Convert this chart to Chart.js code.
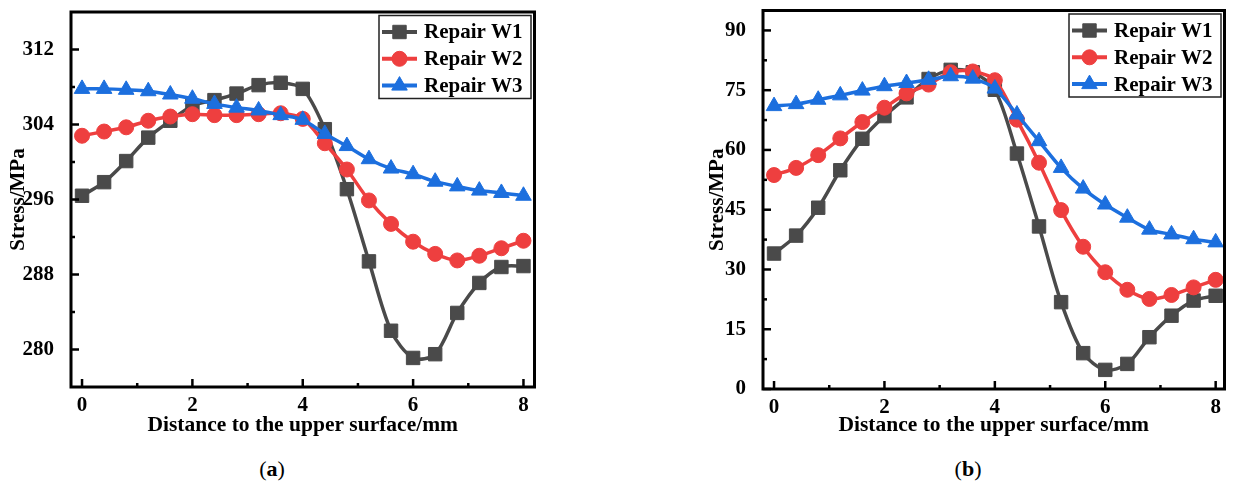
<!DOCTYPE html>
<html>
<head>
<meta charset="utf-8">
<script src="https://cdn.jsdelivr.net/npm/chart.js@4.4.1/dist/chart.umd.min.js"></script>
<style>
  body { margin: 0; background: #fff; width: 1235px; height: 484px; overflow: hidden; position: relative; font-family: "Liberation Serif", serif; }
  .panel { position: absolute; top: 0; }
  .cap { position: absolute; top: 456px; width: 60px; text-align: center; font-size: 22px; color: #000; }
</style>
</head>
<body>
<div class="panel" style="left:0"><canvas id="panelA" width="545" height="440"></canvas></div>
<div class="panel" style="left:690px"><canvas id="panelB" width="545" height="440"></canvas></div>
<div class="cap" style="left:242px">(<b>a</b>)</div>
<div class="cap" style="left:938px">(<b>b</b>)</div>

<script>
// depth below the upper surface (mm)
const distance = [0, 0.4, 0.8, 1.2, 1.6, 2.0, 2.4, 2.8, 3.2, 3.6, 4.0, 4.4, 4.8, 5.2, 5.6, 6.0, 6.4, 6.8, 7.2, 7.6, 8.0];
const seriesNames = ["Repair W1", "Repair W2", "Repair W3"];

// (a) stress, MPa
const stressA_W1 = [296.4, 297.85, 300.1, 302.6, 304.4, 306.0, 306.6, 307.3, 308.2, 308.45, 307.8, 303.5, 297.1, 289.4, 282.0, 279.1, 279.5, 283.9, 287.1, 288.8, 288.9];
const stressA_W2 = [302.8, 303.25, 303.7, 304.4, 304.85, 305.1, 305.0, 305.0, 305.1, 305.2, 304.6, 302.0, 299.2, 295.9, 293.4, 291.5, 290.2, 289.5, 290.0, 290.8, 291.6];
const stressA_W3 = [307.8, 307.8, 307.7, 307.55, 307.2, 306.75, 306.2, 305.8, 305.5, 305.0, 304.5, 303.0, 301.7, 300.3, 299.3, 298.7, 297.9, 297.4, 296.95, 296.7, 296.4];

// (b) stress, MPa
const stressB_W1 = [34.0, 38.5, 45.5, 54.9, 62.8, 68.5, 73.2, 77.8, 80.1, 79.5, 75.1, 59.1, 40.8, 21.8, 9.0, 4.8, 6.3, 13.0, 18.4, 22.2, 23.4];
const stressB_W2 = [53.7, 55.5, 58.7, 62.9, 67.0, 70.6, 74.2, 76.4, 79.5, 79.7, 77.5, 67.6, 56.8, 44.9, 35.7, 29.3, 24.9, 22.6, 23.6, 25.5, 27.4];
const stressB_W3 = [71.0, 71.5, 72.6, 73.7, 74.9, 76.0, 76.8, 77.6, 78.5, 77.9, 75.4, 68.9, 62.2, 55.5, 50.3, 46.3, 43.0, 40.0, 38.8, 37.6, 36.8];

const xTicks = [0, 2, 4, 6, 8];
const xMinor = [1, 3, 5, 7];
const yTicksA = [280, 288, 296, 304, 312];
const yMinorA = [284, 292, 300, 308];
const yTicksB = [0, 15, 30, 45, 60, 75, 90];
const yMinorB = [7.5, 22.5, 37.5, 52.5, 67.5, 82.5];

const FONT = '"Liberation Serif", "Times New Roman", serif';
const colors = ["#4a4a4a", "#ee3f3f", "#1c6fde"];
const markers = ["rect", "circle", "triangle"];
const markerSize = [9.5, 7.5, 9];

// frame round the plot area plus inward major/minor ticks
const framePlugin = {
  id: "frame",
  afterDatasetsDraw(chart, args, o) {
    const { ctx, chartArea: a, scales: { x, y } } = chart;
    ctx.save();
    ctx.strokeStyle = "#000";
    ctx.lineCap = "butt";
    const tick = (x1, y1, x2, y2, w) => {
      ctx.lineWidth = w;
      ctx.beginPath(); ctx.moveTo(x1, y1); ctx.lineTo(x2, y2); ctx.stroke();
    };
    o.xMajor.forEach(v => { const p = x.getPixelForValue(v); tick(p, a.bottom, p, a.bottom - 8, 2.5); });
    o.xMinor.forEach(v => { const p = x.getPixelForValue(v); tick(p, a.bottom, p, a.bottom - 4, 2.5); });
    o.yMajor.forEach(v => { const p = y.getPixelForValue(v); tick(a.left, p, a.left + 8, p, 2.5); });
    o.yMinor.forEach(v => { const p = y.getPixelForValue(v); tick(a.left, p, a.left + 4, p, 2.5); });
    ctx.lineWidth = 3;
    ctx.strokeRect(a.left, a.top, a.right - a.left, a.bottom - a.top);
    ctx.restore();
  }
};

// boxed legend in the top right corner, line + marker samples
const legendPlugin = {
  id: "boxLegend",
  afterDraw(chart) {
    const { ctx, chartArea: a } = chart;
    const w = 152, h = 83;
    const left = a.right - 3.5 - w, top = a.top + 3.5;
    ctx.save();
    ctx.fillStyle = "#fff";
    ctx.fillRect(left, top, w, h);
    ctx.strokeStyle = "#222";
    ctx.lineWidth = 1.5;
    ctx.strokeRect(left, top, w, h);
    chart.data.datasets.forEach((ds, i) => {
      const cy = top + 16.5 + i * 26.8;
      ctx.strokeStyle = ds.borderColor;
      ctx.fillStyle = ds.borderColor;
      ctx.lineWidth = 4;
      ctx.beginPath(); ctx.moveTo(left + 3, cy); ctx.lineTo(left + 38, cy); ctx.stroke();
      ctx.lineWidth = 1;
      Chart.helpers.drawPoint(ctx, { pointStyle: ds.pointStyle, radius: ds.pointRadius, borderWidth: 1, rotation: 0 }, left + 20.5, cy);
      ctx.fillStyle = "#000";
      ctx.font = "bold 21px " + FONT;
      ctx.textBaseline = "middle";
      ctx.fillText(ds.label, left + 45, cy + 1);
    });
    ctx.restore();
  }
};

function makePanel(id, series, p) {
  const datasets = series.map((vals, i) => ({
    label: seriesNames[i],
    data: distance.map((d, k) => ({ x: d, y: vals[k] })),
    borderColor: colors[i],
    backgroundColor: colors[i],
    borderWidth: 3.5,
    pointStyle: markers[i],
    pointRadius: markerSize[i],
    pointBorderWidth: 1,
    tension: 0.3,
    order: 2 - i,
    clip: false
  }));

  new Chart(document.getElementById(id), {
    type: "line",
    data: { datasets },
    options: {
      responsive: false,
      animation: false,
      layout: { padding: { left: 0, top: p.top, right: p.right, bottom: 0 } },
      plugins: {
        legend: { display: false },
        tooltip: { enabled: false },
        frame: { xMajor: xTicks, xMinor: xMinor, yMajor: p.yTicks, yMinor: p.yMinor }
      },
      scales: {
        x: {
          type: "linear",
          min: p.xMin, max: p.xMax,
          grid: { display: false },
          border: { display: false },
          afterBuildTicks: s => { s.ticks = xTicks.map(v => ({ value: v })); },
          afterFit: s => { s.height = p.xHeight; s.paddingLeft = 0; s.paddingRight = 0; },
          ticks: { color: "#000", padding: -2, font: { family: FONT, size: 21, weight: "bold" } },
          title: {
            display: true, text: "Distance to the upper surface/mm", color: "#000",
            padding: { top: 0, bottom: 2 },
            font: { family: FONT, size: 21.5, weight: "bold" }
          }
        },
        y: {
          min: p.yMin, max: p.yMax,
          grid: { display: false },
          border: { display: false },
          afterBuildTicks: s => { s.ticks = p.yTicks.map(v => ({ value: v })); },
          afterFit: s => { s.width = p.yWidth; s.paddingTop = 0; s.paddingBottom = 0; },
          ticks: { color: "#000", padding: 9, font: { family: FONT, size: 21, weight: "bold" } },
          title: {
            display: true, text: "Stress/MPa", color: "#000",
            padding: { top: p.titlePad, bottom: 0 },
            font: { family: FONT, size: 21, weight: "bold" }
          }
        }
      }
    },
    plugins: [framePlugin, legendPlugin]
  });
}

makePanel("panelA", [stressA_W1, stressA_W2, stressA_W3], {
  xMin: -0.2, xMax: 8.2, yMin: 276, yMax: 316,
  yTicks: yTicksA, yMinor: yMinorA,
  top: 12, right: 7, xHeight: 53, yWidth: 71, titlePad: 6
});

makePanel("panelB", [stressB_W1, stressB_W2, stressB_W3], {
  xMin: -0.2, xMax: 8.16, yMin: 0, yMax: 95,
  yTicks: yTicksB, yMinor: yMinorB,
  top: 10, right: 2, xHeight: 51, yWidth: 73, titlePad: 15
});
</script>
</body>
</html>
